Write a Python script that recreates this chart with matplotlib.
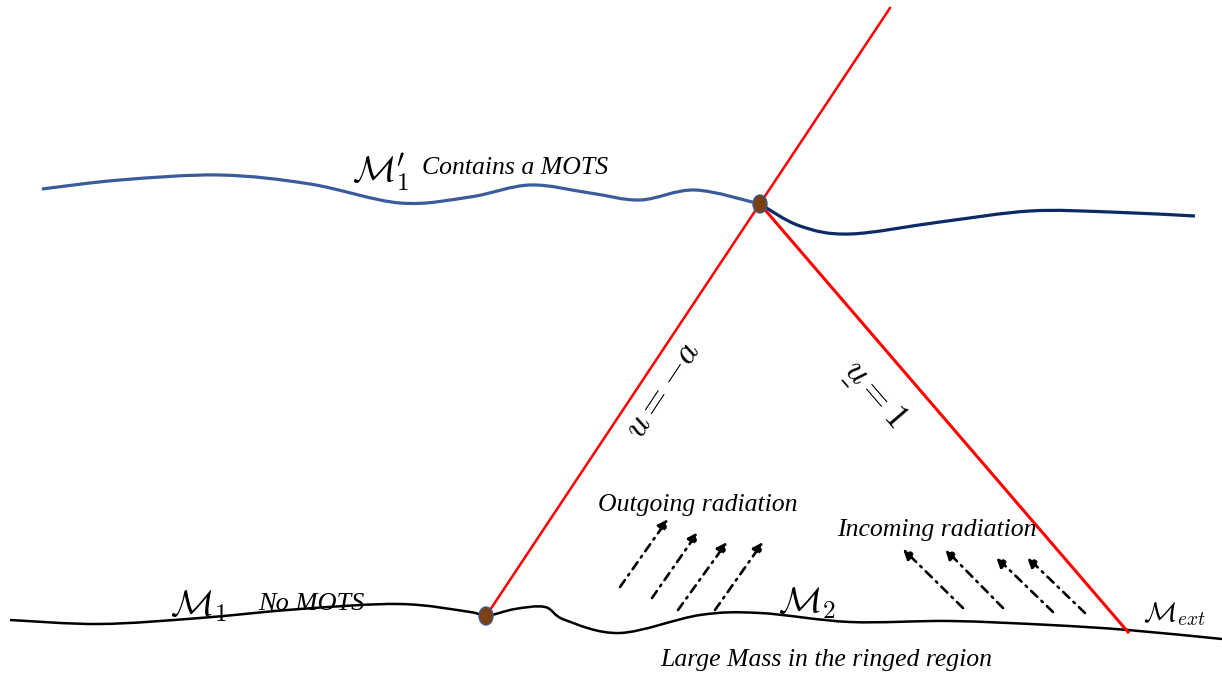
import numpy as np
import matplotlib.pyplot as plt
from matplotlib.path import Path
from matplotlib.patches import PathPatch, Ellipse

plt.rcParams['mathtext.fontset'] = 'cm'

# Geometry (pixel coordinates, y downwards)
top_left_x = [42, 120, 220, 310, 400, 470, 530, 590, 640, 695, 760]
top_left_y = [189, 180, 175, 184, 203, 197, 185, 193, 200, 190, 204]
top_right_x = [760, 800, 850, 940, 1030, 1110, 1195]
top_right_y = [204, 226, 234, 222, 211, 212, 216]
bottom_x = [10, 100, 200, 300, 400, 470, 486, 515, 545, 565, 620, 700, 760, 850, 950, 1050, 1128, 1222]
bottom_y = [620, 624, 618, 609, 604, 612, 616, 609, 607, 620, 633, 615, 613, 622, 621, 625, 630, 639]

dot_top = (760, 204)
dot_bottom = (486, 616)
line_a_end = (890, 8)
line_b_end = (1128, 632)

out_tails = [(620, 587), (652, 598), (678, 610), (715, 610)]
out_heads = [(668, 519), (698, 532), (727, 542), (763, 542)]
in_tails = [(963, 608), (1003, 608), (1053, 612), (1085, 613)]
in_heads = [(903, 549), (945, 549), (996, 557), (1027, 557)]


def smooth_path(xs, ys):
    pts = np.column_stack([xs, ys]).astype(float)
    verts = [pts[0]]
    codes = [Path.MOVETO]
    for i in range(len(pts) - 1):
        p0 = pts[i - 1] if i > 0 else pts[i]
        p1, p2 = pts[i], pts[i + 1]
        p3 = pts[i + 2] if i + 2 < len(pts) else pts[i + 1]
        verts += [p1 + (p2 - p0) / 6, p2 - (p3 - p1) / 6, p2]
        codes += [Path.CURVE4] * 3
    return Path(verts, codes)


fig = plt.figure(figsize=(12.22, 6.77), dpi=100)
ax = fig.add_axes([0, 0, 1, 1])
ax.set_xlim(0, 1222)
ax.set_ylim(677, 0)
ax.axis('off')

ax.add_patch(PathPatch(smooth_path(top_left_x, top_left_y), fill=False, ec='#3A5C9C', lw=2.3))
ax.add_patch(PathPatch(smooth_path(top_right_x, top_right_y), fill=False, ec='#0C2A66', lw=2.3))
ax.add_patch(PathPatch(smooth_path(bottom_x, bottom_y), fill=False, ec='black', lw=1.8))

ax.plot([dot_bottom[0], line_a_end[0]], [dot_bottom[1], line_a_end[1]], color='#FF0000', lw=1.8)
ax.plot([dot_top[0], line_b_end[0]], [dot_top[1], line_b_end[1]], color='#FF0000', lw=2.2)

for c in (dot_top, dot_bottom):
    ax.add_patch(Ellipse(c, 14, 18, fc='#7A3F12', ec='#3C5A8C', lw=1.0, zorder=5))

for tails, heads in ((out_tails, out_heads), (in_tails, in_heads)):
    for t, h in zip(tails, heads):
        ax.annotate('', xy=h, xytext=t,
                    arrowprops=dict(arrowstyle='-|>', color='black', lw=1.9,
                                    linestyle=(0, (3.2, 2.2, 0.7, 2.2)), mutation_scale=15,
                                    shrinkA=0, shrinkB=0))

script = dict(family='Liberation Serif', style='italic', color='black')
ax.text(352, 172, r"$\mathcal{M}_1^{\prime}$", fontsize=26, va='center', ha='left')
ax.text(422, 168, "Contains a MOTS", fontsize=18.5, va='center', ha='left', **script)
ax.text(170, 606, r"$\mathcal{M}_1$", fontsize=26, va='center', ha='left')
ax.text(258, 604, "No MOTS", fontsize=19, va='center', ha='left', **script)
ax.text(778, 603, r"$\mathcal{M}_2$", fontsize=26, va='center', ha='left')
ax.text(1143, 614, r"$\mathcal{M}_{ext}$", fontsize=20, va='center', ha='left')
ax.text(698, 505, "Outgoing radiation", fontsize=18.5, va='center', ha='center', **script)
ax.text(937, 530, "Incoming radiation", fontsize=18.5, va='center', ha='center', **script)
ax.text(826, 660, "Large Mass in the ringed region", fontsize=18.5, va='center', ha='center', **script)
ax.text(662, 390, r"$u=-a$", fontsize=26, rotation=56.4, va='center', ha='center')
ax.text(874, 395, r"$\underset{\_}{u}=1$", fontsize=26, rotation=-49.3, va='center', ha='center')

fig.savefig('out.png', dpi=100)
